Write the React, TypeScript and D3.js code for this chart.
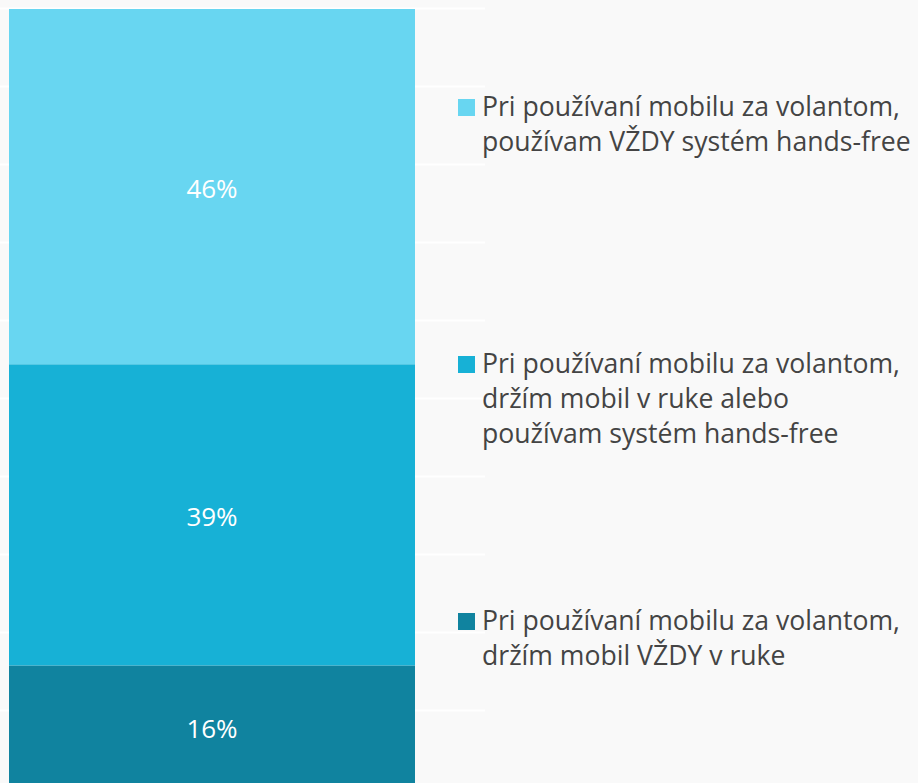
import React from "react";
import * as d3 from "d3";

const categories = [
  "Pri používaní mobilu za volantom, držím mobil VŽDY v ruke",
  "Pri používaní mobilu za volantom, držím mobil v ruke alebo používam systém hands-free",
  "Pri používaní mobilu za volantom, používam VŽDY systém hands-free",
];
const values = [16, 39, 46];
const labels = ["16%", "39%", "46%"];
const colors = ["#10839f", "#17b1d6", "#68d6f1"];
const legendLines = [
  ["Pri používaní mobilu za volantom,", "používam VŽDY systém hands-free"],
  ["Pri používaní mobilu za volantom,", "držím mobil v ruke alebo", "používam systém hands-free"],
  ["Pri používaní mobilu za volantom,", "držím mobil VŽDY v ruke"],
];
const legendColors = ["#68d6f1", "#17b1d6", "#10839f"];
const legendBaselines = [116, 373, 630];

export default function App() {
  const W = 918;
  const H = 783;
  const total = d3.sum(values);
  const y = d3.scaleLinear().domain([0, total]).range([789, 9]);
  const ticks = d3.range(0, 11).map((i) => (i * total) / 10);
  const row: any = {};
  values.forEach((v, i) => (row[String(i)] = v));
  const stack = d3.stack<any>().keys(values.map((_, i) => String(i)))([row]);
  const font = "'Open Sans', sans-serif";
  const bx = 9;
  const bw = 406;
  return (
    <svg width={W} height={H} style={{ position: "absolute", left: 0, top: 0, background: "#f9f9f9" }}>
      <rect x={0} y={0} width={W} height={H} fill="#f9f9f9" />
      {ticks.map((t, i) => (
        <line key={i} x1={0} x2={485} y1={Math.round(y(t)) - 0.5} y2={Math.round(y(t)) - 0.5} stroke="#ffffff" strokeWidth={2} />
      ))}
      {stack.map((s, i) => {
        const d = s[0];
        const y0 = y(d[0]);
        const y1 = y(d[1]);
        return <rect key={i} x={bx} y={y1} width={bw} height={y0 - y1} fill={colors[i]} />;
      })}
      {stack.map((s, i) => {
        const d = s[0];
        const cy = (y(d[0]) + y(d[1])) / 2;
        return (
          <text key={"l" + i} x={bx + bw / 2} y={cy + 2} dy="0.35em" textAnchor="middle" fill="#ffffff" fontFamily={font} fontSize={26}>
            {labels[i]}
          </text>
        );
      })}
      {legendLines.map((lines, i) => (
        <g key={"g" + i}>
          <rect x={458} y={legendBaselines[i] - 17} width={17} height={17} fill={legendColors[i]} />
          <text x={482} y={legendBaselines[i]} fill="#444444" fontFamily={font} fontSize={26.6}>
            {lines.map((ln, j) => (
              <tspan key={j} x={482} y={legendBaselines[i] + j * 35}>
                {ln}
              </tspan>
            ))}
          </text>
        </g>
      ))}
    </svg>
  );
}
